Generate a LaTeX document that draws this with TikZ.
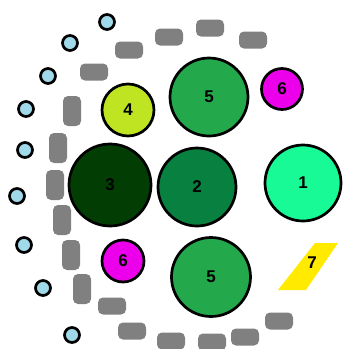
\documentclass[tikz,border=0pt]{standalone}
\usepackage{fontspec}
\setmainfont{Liberation Sans}
\usepackage{tikz}
\usetikzlibrary{positioning}
\definecolor{seatgray}{RGB}{128, 128, 128}
\definecolor{guestblue}{RGB}{160, 218, 234}
\definecolor{tablemid}{RGB}{36, 168, 76}
\definecolor{tablelime}{RGB}{190, 228, 34}
\definecolor{tablepink}{RGB}{236, 0, 236}
\definecolor{tabledark}{RGB}{2, 62, 4}
\definecolor{tablegreen}{RGB}{8, 128, 64}
\definecolor{tablemint}{RGB}{24, 250, 150}
\definecolor{stageyellow}{RGB}{255, 234, 0}
\tikzset{
tablelabel/.style={
  font=\fontsize{17}{17}\selectfont\bfseries,
  text=black
},
roundtable/.style={
  circle,
  draw=black,
  line width=2.7pt,
  inner sep=0pt,
  tablelabel
},
hseat/.style={
  rectangle,
  fill=seatgray,
  rounded corners=5pt,
  minimum width=28pt,
  minimum height=17pt,
  inner sep=0pt
},
vseat/.style={
  rectangle,
  fill=seatgray,
  rounded corners=5pt,
  minimum width=18pt,
  minimum height=30pt,
  inner sep=0pt
},
guest/.style={
  circle,
  draw=black,
  line width=2.7pt,
  fill=guestblue,
  minimum size=15pt,
  inner sep=0pt
}
}
\begin{document}
\begin{tikzpicture}[
    x=1pt, y=-1pt,
    bigtable/.style={roundtable, minimum size=78pt},
    smalltable/.style={roundtable, minimum size=41pt}
  ]
    \useasboundingbox (0,0) rectangle (345,349);

    % Tables
    \node[bigtable, fill=tablemid] (t5top) at (209,97) {5};
    \node[roundtable, fill=tablelime, minimum size=52pt] (t4) at (128,110) {4};
    \node[smalltable, fill=tablepink] (t6top) at (282,89) {6};
    \node[roundtable, fill=tabledark, minimum size=82pt] (t3) at (110,185) {3};
    \node[bigtable, fill=tablegreen] (t2) at (197,187) {2};
    \node[roundtable, fill=tablemint, minimum size=76pt] (t1) at (303,183) {1};
    \node[smalltable, fill=tablepink, minimum size=42pt] (t6bot) at (123,261) {6};
    \node[bigtable, fill=tablemid, minimum size=79pt] (t5bot) at (211,277) {5};

    % Stage
    \fill[stageyellow] (315,243) -- (338,243) -- (306,290) -- (278,290) -- cycle;
    \node[tablelabel] (t7) at (312,263) {7};

    % Seats, top arc
    \node[hseat] (s1) at (94,72) {};
    \node[hseat] (s2) at (129,50) {};
    \node[hseat] (s3) at (169,37) {};
    \node[hseat] (s4) at (210,28) {};
    \node[hseat] (s5) at (253,40) {};

    % Seats, left side
    \node[vseat] (s6) at (72,111) {};
    \node[vseat] (s7) at (58,148) {};
    \node[vseat] (s8) at (55,185) {};
    \node[vseat] (s9) at (62,220) {};
    \node[vseat] (s10) at (71,255) {};
    \node[vseat] (s11) at (82,289) {};

    % Seats, bottom arc
    \node[hseat] (s12) at (112,306) {};
    \node[hseat] (s13) at (132,331) {};
    \node[hseat] (s14) at (171,341) {};
    \node[hseat] (s15) at (212,342) {};
    \node[hseat] (s16) at (245,337) {};
    \node[hseat] (s17) at (279,321) {};

    % Guests
    \node[guest] (g1) at (107,22) {};
    \node[guest] (g2) at (70,43) {};
    \node[guest] (g3) at (48,76) {};
    \node[guest] (g4) at (26,109) {};
    \node[guest] (g5) at (25,150) {};
    \node[guest] (g6) at (17,196) {};
    \node[guest] (g7) at (24,245) {};
    \node[guest] (g8) at (43,288) {};
    \node[guest] (g9) at (72,335) {};

  \end{tikzpicture}
\end{document}
